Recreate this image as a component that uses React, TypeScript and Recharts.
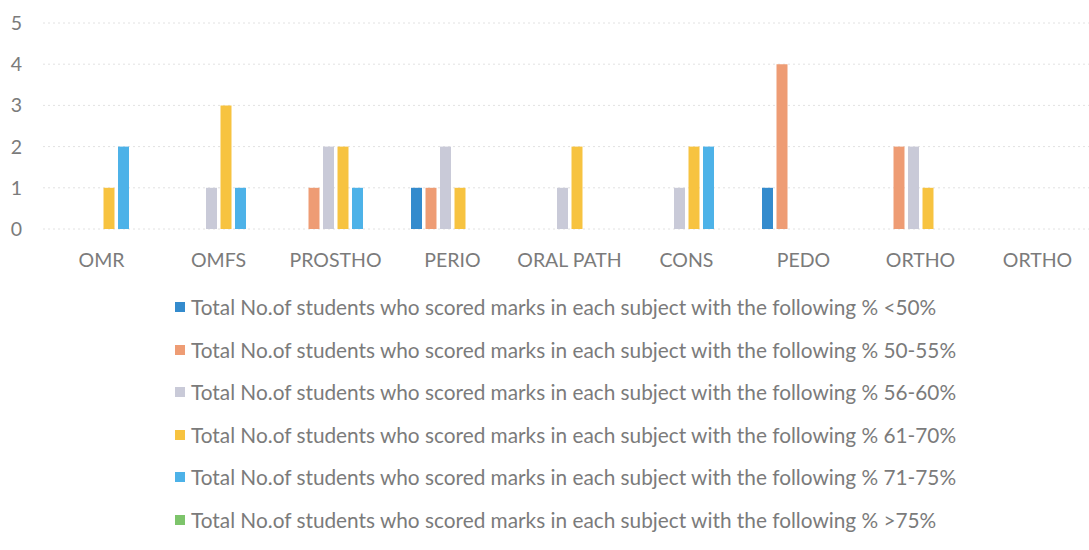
import { BarChart, Bar, XAxis, YAxis, CartesianGrid, Legend } from "recharts";

const subjects = ["OMR", "OMFS", "PROSTHO", "PERIO", "ORAL PATH", "CONS", "PEDO", "ORTHO", "ORTHO"];

const below50 = [0, 0, 0, 1, 0, 0, 1, 0, 0];
const from50to55 = [0, 0, 1, 1, 0, 0, 4, 2, 0];
const from56to60 = [0, 1, 2, 2, 1, 1, 0, 2, 0];
const from61to70 = [1, 3, 2, 1, 2, 2, 0, 1, 0];
const from71to75 = [2, 1, 1, 0, 0, 2, 0, 0, 0];
const above75 = [0, 0, 0, 0, 0, 0, 0, 0, 0];

const yTicks = [0, 1, 2, 3, 4, 5];

const prefix = "Total No.of students who scored marks in each subject with the following % ";

const series = [
  { key: "lt50", name: prefix + "<50%", values: below50, color: "#348bcd" },
  { key: "r50", name: prefix + "50-55%", values: from50to55, color: "#ee9c74" },
  { key: "r56", name: prefix + "56-60%", values: from56to60, color: "#c9cad8" },
  { key: "r61", name: prefix + "61-70%", values: from61to70, color: "#f7c340" },
  { key: "r71", name: prefix + "71-75%", values: from71to75, color: "#4db2e8" },
  { key: "gt75", name: prefix + ">75%", values: above75, color: "#7dc46b" },
];

const data = subjects.map((subject, i) => {
  const row: Record<string, string | number> = { subject };
  series.forEach((s) => {
    row[s.key] = s.values[i];
  });
  return row;
});

const textColor = "#7b7b7b";
const font = "Lato, 'Open Sans', sans-serif";

// legend drawn in series order (recharts sorts its payload by name otherwise)
function LegendList() {
  return (
    <div style={{ fontFamily: font, fontSize: 20.8, color: textColor }}>
      {series.map((s) => (
        <div key={s.key} style={{ height: 42.5, display: "flex", alignItems: "flex-start", whiteSpace: "nowrap" }}>
          <span
            style={{
              display: "inline-block",
              width: 10,
              height: 10,
              background: s.color,
              marginTop: 6,
              marginRight: 6,
            }}
          />
          <span style={{ lineHeight: "22px" }}>{s.name}</span>
        </div>
      ))}
    </div>
  );
}

export default function App() {
  return (
    <div style={{ position: "absolute", left: 0, top: 0, background: "#fff" }}>
      <BarChart
        width={1089}
        height={550}
        data={data}
        margin={{ top: 23, right: -7, left: 0, bottom: 291 }}
        barSize={11}
        barGap={3.5}
      >
        <CartesianGrid vertical={false} stroke="#e2e2e2" strokeDasharray="2 3" />
        <XAxis
          dataKey="subject"
          axisLine={false}
          tickLine={false}
          interval={0}
          tickMargin={18}
          tick={{ fill: textColor, fontSize: 19.5, fontFamily: font }}
        />
        <YAxis
          width={43}
          domain={[0, 5]}
          ticks={yTicks}
          axisLine={false}
          tickLine={false}
          tickMargin={15}
          tick={{ fill: textColor, fontSize: 19.5, fontFamily: font }}
        />
        <Legend
          layout="vertical"
          align="center"
          verticalAlign="middle"
          content={<LegendList />}
          wrapperStyle={{ left: 175, top: 296, width: 900 }}
        />
        {series.map((s) => (
          <Bar key={s.key} dataKey={s.key} name={s.name} fill={s.color} isAnimationActive={false} />
        ))}
      </BarChart>
    </div>
  );
}
